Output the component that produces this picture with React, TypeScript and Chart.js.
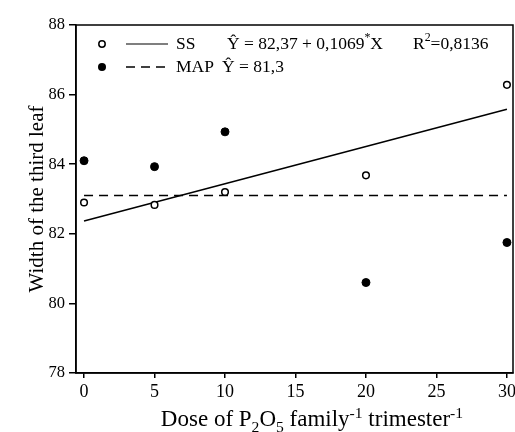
import React, { useEffect, useRef } from "react";
import { Chart, registerables } from "chart.js";
Chart.register(...registerables);

const doses = [0, 5, 10, 20, 30];
const ssValues = [82.9, 82.83, 83.2, 83.68, 86.28];
const mapValues = [84.1, 83.93, 84.93, 80.6, 81.75];
const ssFitX = [0, 30];
const ssFitY = [82.37, 85.58];
const mapMeanX = [0, 30];
const mapMeanY = [83.1, 83.1];
const xTicks = [0, 5, 10, 15, 20, 25, 30];
const yTicks = [78, 80, 82, 84, 86, 88];

const FONT = '"Liberation Serif", "DejaVu Serif", serif';

type Part = [string, "n" | "sub" | "sup"];

function richWidth(ctx: CanvasRenderingContext2D, parts: Part[], size: number) {
  let w = 0;
  for (const [t, k] of parts) {
    const s = k === "n" ? size : size * 0.68;
    ctx.font = `${s}px ${FONT}`;
    w += ctx.measureText(t).width;
  }
  return w;
}

function drawRich(ctx: CanvasRenderingContext2D, parts: Part[], x: number, y: number, size: number) {
  let cx = x;
  for (const [t, k] of parts) {
    const s = k === "n" ? size : size * 0.68;
    ctx.font = `${s}px ${FONT}`;
    const dy = k === "sub" ? size * 0.25 : k === "sup" ? -size * 0.36 : 0;
    ctx.fillText(t, cx, y + dy);
    cx += ctx.measureText(t).width;
  }
}

const overlay = {
  id: "overlay",
  afterDraw(chart: any) {
    const { ctx, chartArea } = chart;
    const { left, top, right, bottom } = chartArea;
    ctx.save();
    ctx.strokeStyle = "#000";
    ctx.lineWidth = 1.5;
    ctx.strokeRect(left, top, right - left, bottom - top);

    ctx.fillStyle = "#000";
    // Legend
    const r1 = 44;
    const r2 = 67;
    ctx.textBaseline = "middle";
    ctx.textAlign = "left";
    ctx.beginPath();
    ctx.arc(102, r1, 3.2, 0, Math.PI * 2);
    ctx.fillStyle = "#fff";
    ctx.fill();
    ctx.lineWidth = 1.5;
    ctx.stroke();
    ctx.fillStyle = "#000";
    ctx.beginPath();
    ctx.moveTo(126, r1);
    ctx.lineTo(168, r1);
    ctx.lineWidth = 1.2;
    ctx.stroke();
    ctx.beginPath();
    ctx.arc(102, r2, 4, 0, Math.PI * 2);
    ctx.fill();
    ctx.beginPath();
    ctx.setLineDash([9, 6]);
    ctx.moveTo(126, r2);
    ctx.lineTo(168, r2);
    ctx.lineWidth = 1.5;
    ctx.stroke();
    ctx.setLineDash([]);

    const ls = 17.5;
    drawRich(ctx, [["SS", "n"]], 176, r1, ls);
    drawRich(ctx, [["Ŷ = 82,37 + 0,1069", "n"], ["*", "sup"], ["X", "n"]], 227, r1, ls);
    drawRich(ctx, [["R", "n"], ["2", "sup"], ["=0,8136", "n"]], 413, r1, ls);
    drawRich(ctx, [["MAP", "n"]], 176, r2, ls);
    drawRich(ctx, [["Ŷ = 81,3", "n"]], 222, r2, ls);

    // X title
    const xs = 23;
    const xParts: Part[] = [
      ["Dose of P", "n"], ["2", "sub"], ["O", "n"], ["5", "sub"],
      [" family", "n"], ["-1", "sup"], [" trimester", "n"], ["-1", "sup"],
    ];
    ctx.textBaseline = "alphabetic";
    const w = richWidth(ctx, xParts, xs);
    drawRich(ctx, xParts, 312 - w / 2, 426, xs);

    // Y title
    ctx.save();
    ctx.translate(37, (top + bottom) / 2);
    ctx.rotate(-Math.PI / 2);
    ctx.textAlign = "center";
    ctx.textBaseline = "middle";
    ctx.font = `21px ${FONT}`;
    ctx.fillText("Width of the third leaf", 0, 0);
    ctx.restore();

    ctx.restore();
  },
};

export default function App() {
  const ref = useRef<HTMLCanvasElement>(null);
  useEffect(() => {
    if (!ref.current) return;
    const chart = new Chart(ref.current, {
      type: "scatter",
      data: {
        datasets: [
          {
            label: "SS",
            data: doses.map((x, i) => ({ x, y: ssValues[i] })),
            pointRadius: 3.3,
            pointBackgroundColor: "#fff",
            pointBorderColor: "#000",
            pointBorderWidth: 1.5,
            showLine: false,
          },
          {
            label: "MAP",
            data: doses.map((x, i) => ({ x, y: mapValues[i] })),
            pointRadius: 4,
            pointBackgroundColor: "#000",
            pointBorderColor: "#000",
            pointBorderWidth: 1,
            showLine: false,
          },
          {
            label: "SS fit",
            data: ssFitX.map((x, i) => ({ x, y: ssFitY[i] })),
            showLine: true,
            pointRadius: 0,
            borderColor: "#000",
            borderWidth: 1.5,
          },
          {
            label: "MAP mean",
            data: mapMeanX.map((x, i) => ({ x, y: mapMeanY[i] })),
            showLine: true,
            pointRadius: 0,
            borderColor: "#000",
            borderWidth: 1.5,
            borderDash: [9, 6],
          },
        ],
      },
      options: {
        responsive: false,
        animation: false,
        layout: { autoPadding: false, padding: { left: 0, right: 2, top: 25, bottom: 0 } },
        plugins: { legend: { display: false }, tooltip: { enabled: false } },
        scales: {
          x: {
            type: "linear",
            min: -0.57,
            max: 30.43,
            afterBuildTicks: (s: any) => {
              s.ticks = xTicks.map((v) => ({ value: v }));
            },
            afterFit: (s: any) => {
              s.height = 59;
              s.paddingLeft = 0;
              s.paddingRight = 0;
            },
            grid: { display: true, drawOnChartArea: false, drawTicks: true, tickLength: 5, color: "#000", lineWidth: 1.5 },
            border: { display: true, color: "#000", width: 1.5 },
            ticks: { color: "#000", padding: 3, font: { family: FONT, size: 18 }, maxRotation: 0 },
          },
          y: {
            type: "linear",
            min: 78,
            max: 88,
            afterBuildTicks: (s: any) => {
              s.ticks = yTicks.map((v) => ({ value: v }));
            },
            afterFit: (s: any) => {
              s.width = 76;
              s.paddingTop = 0;
              s.paddingBottom = 0;
            },
            grid: { display: true, drawOnChartArea: false, drawTicks: true, tickLength: 7, color: "#000", lineWidth: 1.5 },
            border: { display: true, color: "#000", width: 1.5 },
            ticks: { color: "#000", padding: 4, font: { family: FONT, size: 16.5 } },
          },
        },
      },
      plugins: [overlay],
    });
    return () => chart.destroy();
  }, []);
  return (
    <div style={{ position: "fixed", left: 0, top: 0, width: 515, height: 432, background: "#fff" }}>
      <canvas ref={ref} width={515} height={432} />
    </div>
  );
}
